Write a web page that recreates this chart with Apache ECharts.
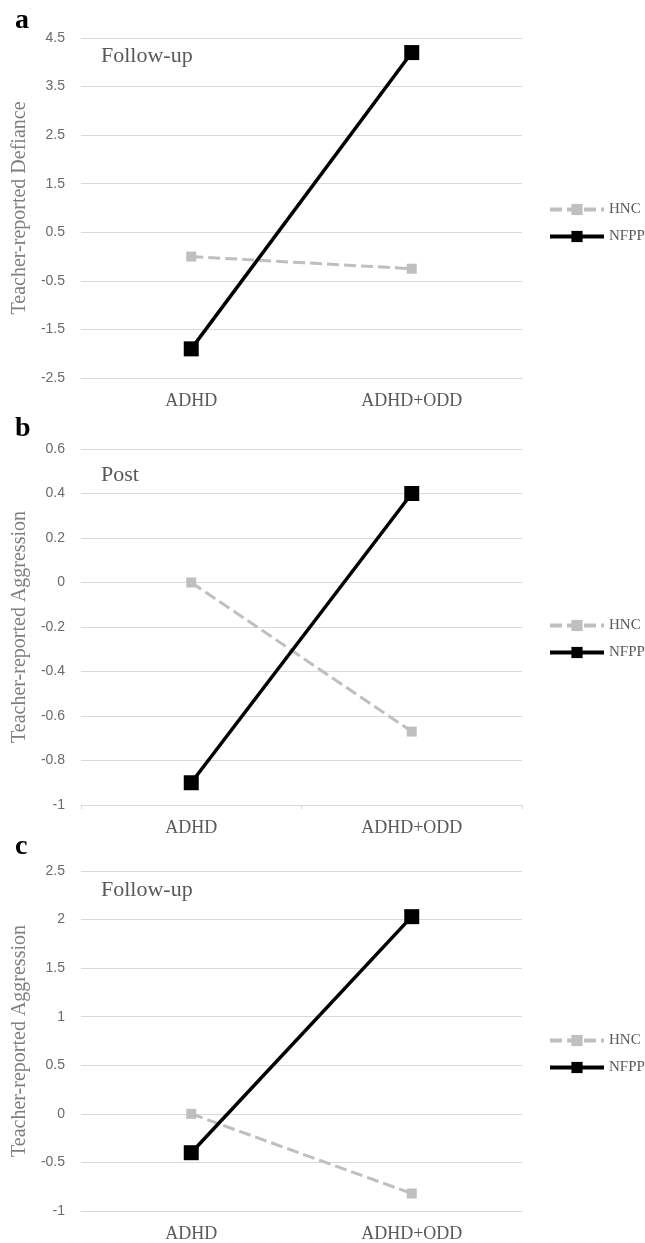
<!DOCTYPE html>
<html>
<head>
<meta charset="utf-8">
<script src="https://cdn.jsdelivr.net/npm/echarts@6/dist/echarts.min.js"></script>
<style>
  html, body { margin: 0; padding: 0; background: #fff; }
  #chart { width: 645px; height: 1243px; }
</style>
</head>
<body>
<div id="chart"></div>
<script>
/////////  DATI ////////////////
const groups = ["ADHD", "ADHD+ODD"];
const seriesNames = ["HNC", "NFPP"];

// pannello a - Follow-up, defiance
const defianceHNC = [0.0, -0.25];
const defianceNFPP = [-1.9, 4.2];

// pannello b - Post, aggression
const aggrPostHNC = [0.0, -0.67];
const aggrPostNFPP = [-0.9, 0.4];

// pannello c - Follow-up, aggression
const aggrFollowHNC = [0.0, -0.82];
const aggrFollowNFPP = [-0.4, 2.03];

const panelLetters = ["a", "b", "c"];
const panelPhases = ["Follow-up", "Post", "Follow-up"];
const yTitles = ["Teacher-reported Defiance", "Teacher-reported Aggression", "Teacher-reported Aggression"];
const yMin = [-2.5, -1, -1];
const yMax = [4.5, 0.6, 2.5];
const yStep = [1, 0.2, 0.5];

/////////  LAYOUT ////////////////
const grids = [
  { top: 38, height: 340 },
  { top: 449, height: 356 },
  { top: 871, height: 341 }
];
const legendTops = [199, 615, 1030];

const grey = "#595959";
const serif = "'Liberation Serif', 'Times New Roman', serif";

const chart = echarts.init(document.getElementById("chart"), null, { renderer: "canvas" });

const data = [
  [defianceHNC, defianceNFPP],
  [aggrPostHNC, aggrPostNFPP],
  [aggrFollowHNC, aggrFollowNFPP]
];

const series = [];
data.forEach((pair, i) => {
  series.push({
    name: "HNC",
    type: "line",
    xAxisIndex: i,
    yAxisIndex: i,
    data: pair[0],
    symbol: "rect",
    symbolSize: 10,
    itemStyle: { color: "#bfbfbf" },
    lineStyle: { color: "#bfbfbf", width: 3, type: [12, 5] },
    z: 2
  });
  series.push({
    name: "NFPP",
    type: "line",
    xAxisIndex: i,
    yAxisIndex: i,
    data: pair[1],
    symbol: "rect",
    symbolSize: 15,
    itemStyle: { color: "#000" },
    lineStyle: { color: "#000", width: 3.5 },
    z: 3
  });
});

const option = {
  animation: false,
  backgroundColor: "#fff",
  grid: grids.map(g => ({ left: 81, right: 123, top: g.top, height: g.height })),
  xAxis: grids.map((g, i) => ({
    type: "category",
    gridIndex: i,
    data: groups,
    boundaryGap: true,
    axisLine: { show: true, onZero: false, lineStyle: { color: "#d9d9d9", width: 1 } },
    axisTick: { show: i === 1, length: 4, lineStyle: { color: "#d9d9d9" } },
    axisLabel: { color: grey, fontFamily: serif, fontSize: 18, margin: 14 }
  })),
  yAxis: grids.map((g, i) => ({
    type: "value",
    gridIndex: i,
    min: yMin[i],
    max: yMax[i],
    interval: yStep[i],
    name: yTitles[i],
    nameLocation: "middle",
    nameGap: 42,
    nameTextStyle: { color: "#7f7f7f", fontFamily: serif, fontSize: 20 },
    axisLine: { show: false },
    axisTick: { show: false },
    splitLine: { lineStyle: { color: "#d9d9d9", width: 1 } },
    axisLabel: { color: "#6b6b6b", fontFamily: "'Liberation Sans', sans-serif", fontSize: 14, margin: 16 }
  })),
  legend: legendTops.map(t => ({
    data: seriesNames,
    orient: "vertical",
    left: 543,
    top: t - 2,
    itemWidth: 54,
    itemHeight: 14,
    itemGap: 12,
    lineStyle: { width: 4 },
    textStyle: { color: grey, fontFamily: serif, fontSize: 15 },
    selectedMode: false
  })),
  title: [
    ...panelLetters.map((l, i) => ({
      text: l,
      left: 10,
      top: [2, 410, 828][i],
      textStyle: { color: "#000", fontFamily: serif, fontSize: 28, fontWeight: "bold" }
    })),
    ...panelPhases.map((p, i) => ({
      text: p,
      left: 96,
      top: [40, 459, 874][i],
      textStyle: { color: grey, fontFamily: serif, fontSize: 22, fontWeight: "normal" }
    }))
  ],
  series: series
};

chart.setOption(option);
</script>
</body>
</html>
